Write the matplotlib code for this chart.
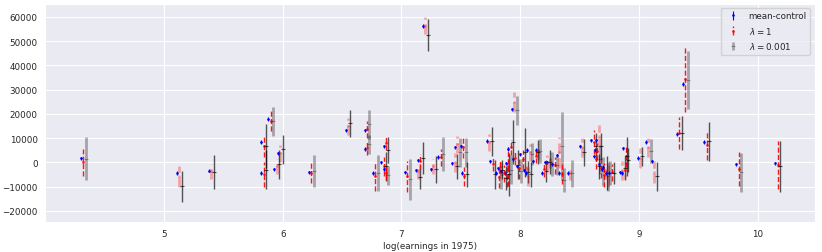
import matplotlib
matplotlib.use('Agg')
import matplotlib.pyplot as plt
import seaborn as sns

# log(earnings in 1975) for each unit
x = [4.30, 5.11, 5.38, 5.82, 5.82, 5.88, 5.96, 5.93, 6.22, 6.53,
     6.69, 6.69, 6.76, 6.85, 6.83, 6.85, 7.03, 7.12, 7.14, 7.18,
     7.25, 7.31, 7.45, 7.43, 7.50, 7.51, 7.72, 7.75, 7.80, 7.81,
     7.88, 7.87, 7.90, 7.93, 7.94, 7.97, 8.00, 8.03, 8.05, 8.13,
     8.11, 8.18, 8.23, 8.27, 8.31, 8.33, 8.40, 8.50, 8.60, 8.64,
     8.63, 8.62, 8.66, 8.69, 8.72, 8.84, 8.87, 8.99, 9.06, 9.11,
     9.32, 9.37, 9.55, 9.82, 10.15, 8.06, 7.84, 8.21, 8.70, 8.75,
     8.86]

# mean-control estimate
mc_y = [1650, -4500, -3500, 8300, -4500, 17800, 3700, -2900, -4100, 13200,
        13200, 5400, -4500, 6600, 0, -2900, -4100, -3300, 800, 56300,
        -2900, 2100, 6200, -400, 6600, -4500, 8700, 400, -4500, -2500,
        -400, -4500, 5400, 21900, 1200, -1700, 3300, -3300, -4500, 5000,
        400, -4500, 0, -800, 2900, -4500, -4500, 6600, 9100, 9100,
        5000, 2500, -800, -2900, -4500, -4100, 5800, 1700, 8300, 400,
        11600, 32300, 8300, -800, -400, 5000, -3700, 0, -2000, -4500,
        -4500]
mc_err = 700

# lambda = 1
r_y = [0, -5800, -3800, 6600, -5000, 17000, 3700, -1700, -4500, 14900,
       13700, 5800, -5800, 7900, -1700, -4500, -5800, -3700, 400, 56300,
       -1700, 2100, 7400, 0, 6200, -5800, 8300, -800, -6200, -2000,
       -1700, -5400, 6200, 24800, 1700, -2500, 1200, -2500, -5800, 4500,
       2500, -2900, 800, -1200, 4100, -4800, -4500, 6200, 8300, 10800,
       4500, 1200, -2500, -5400, -5800, -3300, 2500, 1700, 6200, -4100,
       12000, 34300, 7000, -2900, -1200, 4100, -4500, -400, -3700, -4100,
       -3300]
r_err = [5500, 4200, 3000, 4500, 5000, 4000, 3500, 3000, 4000, 3500,
         3500, 3000, 6000, 3000, 4000, 3000, 6500, 3000, 3000, 3500,
         3000, 3500, 3500, 4000, 4500, 4000, 3500, 3000, 4500, 3000,
         8000, 5000, 3000, 4000, 3000, 4500, 4000, 3000, 4000, 3000,
         3000, 3000, 3000, 3500, 6500, 4000, 3000, 4000, 5000, 4500,
         3500, 4000, 4000, 5000, 4500, 4000, 4500, 4000, 4000, 4500,
         6600, 13500, 6000, 7000, 10000, 3500, 3500, 3500, 3000, 3500,
         3500]
r_faint = [0, 1, 1, 0, 0, 0, 1, 1, 0, 1,
           0, 0, 0, 0, 0, 0, 0, 1, 0, 1,
           1, 0, 1, 1, 0, 0, 1, 0, 0, 0,
           0, 0, 0, 1, 0, 0, 0, 1, 1, 1,
           0, 0, 1, 0, 1, 0, 1, 1, 0, 1,
           0, 0, 0, 0, 1, 1, 0, 1, 1, 1,
           0, 0, 0, 0, 0, 1, 0, 1, 1, 0,
           0]

# lambda = 0.001
k_y = [1500, -9900, -4000, 6600, -3000, 17000, 5400, -800, -3700, 16100,
       15700, 7400, -4500, 5000, -1700, -5400, -7000, -6200, 1700, 52500,
       -2900, 3300, 4100, -1700, 4100, -5000, 8700, -5000, -5400, -3000,
       -3000, -5000, 8300, 21500, -1000, -3700, 4100, -4100, -5000, 4500,
       4100, -3700, -800, -1200, 6600, -7400, -4500, 4100, 6600, 6600,
       1200, -1700, -3700, -4500, -4500, -2500, 800, 2500, 4500, -5800,
       12000, 34000, 8700, -4100, -1700, 3300, -6600, 0, -5800, -4500,
       2500]
k_err = [9000, 6300, 7000, 9000, 8000, 6000, 6000, 6000, 6500, 5500,
         6000, 4000, 7500, 5500, 6000, 4000, 8500, 5000, 6500, 6500,
         5500, 7000, 6000, 5000, 6000, 5000, 6000, 6000, 5500, 4000,
         6000, 9000, 9000, 6000, 6000, 5000, 10000, 4500, 5000, 5000,
         5000, 4500, 5000, 4000, 14000, 5000, 5500, 5500, 5500, 5500,
         6000, 5000, 6000, 7000, 5000, 5000, 5000, 4000, 5000, 6000,
         7000, 12000, 8000, 8000, 10500, 4500, 5000, 5000, 6000, 4500,
         8000]
k_faint = [1, 0, 0, 0, 0, 1, 0, 0, 1, 0,
           1, 1, 1, 0, 0, 1, 1, 0, 0, 0,
           0, 1, 1, 0, 1, 0, 0, 0, 1, 0,
           1, 0, 0, 1, 0, 1, 0, 0, 0, 1,
           0, 0, 1, 1, 1, 1, 1, 0, 0, 0,
           1, 0, 1, 0, 1, 0, 0, 0, 1, 0,
           0, 1, 0, 1, 0, 1, 0, 0, 1, 0,
           0]

sns.set_style('darkgrid')
plt.rcParams['font.family'] = ['DejaVu Sans']

fig = plt.figure(figsize=(8.22, 2.53), dpi=100)
ax = fig.add_axes([0.055, 0.12, 0.936, 0.862])

for i in range(len(x)):
    ax.errorbar(x[i], mc_y[i], yerr=mc_err, fmt='o', c='blue', ms=1.9, mew=0,
                lw=0.8, label='mean-control' if i == 0 else None)

    if r_faint[i]:
        a, w = 0.3, 2
    else:
        a, w = 0.9, 1
    eb = ax.errorbar(x[i] + 0.02, r_y[i], yerr=r_err[i], fmt='o', c='red',
                     ms=1.9, mew=0, lw=w, alpha=a,
                     label=r'$\lambda = 1$' if i == 0 else None)
    eb[2][0].set_linestyle('--')

    if k_faint[i]:
        a, w = 0.3, 2
    else:
        a, w = 0.65, 1
    ax.errorbar(x[i] + 0.04, k_y[i], yerr=k_err[i], fmt='_', c='black',
                ms=3.5, mew=0.8, lw=w, alpha=a,
                label=r'$\lambda = 0.001$' if i == 0 else None)

ax.set_xlim(4.0, 10.48)
ax.set_ylim(-24500, 65500)
ax.set_xticks([5, 6, 7, 8, 9, 10])
ax.set_yticks(range(-20000, 60001, 10000))
ax.tick_params(axis='both', labelsize=6.3, pad=2)
ax.set_xlabel('log(earnings in 1975)', fontsize=6.3, labelpad=2)

h, l = ax.get_legend_handles_labels()
ax.legend(h[:3], l[:3], loc='upper right', fontsize=6.3, frameon=True)

plt.savefig('out.png', dpi=100)
